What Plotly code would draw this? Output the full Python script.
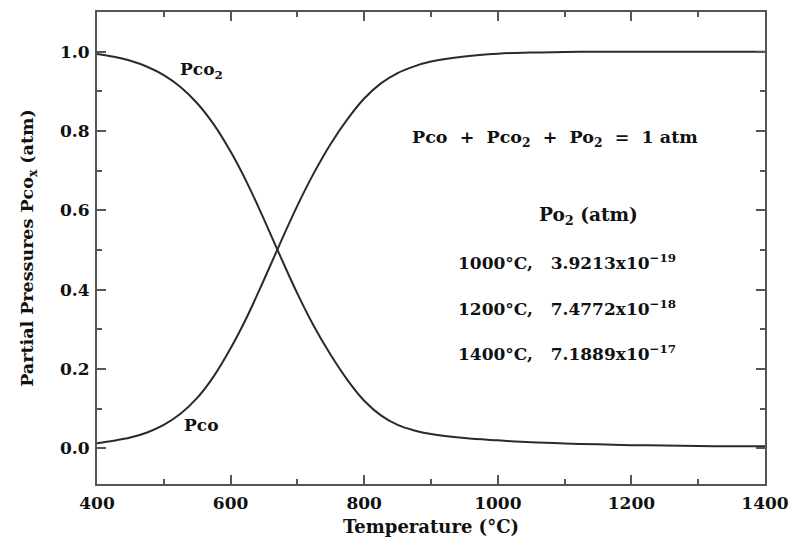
import plotly.graph_objects as go

# Data
temperature = [400, 425, 450, 475, 500, 525, 550, 575, 600, 625, 650, 675, 700, 725, 750, 775,
               800, 825, 850, 875, 900, 950, 1000, 1050, 1100, 1150, 1200, 1250, 1300, 1350, 1400]
p_co = [0.013, 0.019, 0.027, 0.040, 0.059, 0.087, 0.127, 0.182, 0.252, 0.333, 0.425, 0.52, 0.612, 0.695,
        0.768, 0.83, 0.882, 0.92, 0.946, 0.963, 0.975, 0.988, 0.995, 0.998, 0.999, 1.0, 1.0, 1.0, 1.0, 1.0, 1.0]
p_co2 = [0.994, 0.987, 0.977, 0.962, 0.941, 0.911, 0.87, 0.816, 0.748, 0.668, 0.577, 0.482, 0.39, 0.307,
         0.235, 0.172, 0.12, 0.083, 0.059, 0.045, 0.036, 0.026, 0.02, 0.015, 0.012, 0.01, 0.008, 0.007, 0.006, 0.005, 0.005]

x_ticks = [400, 600, 800, 1000, 1200, 1400]
y_ticks = [0.0, 0.2, 0.4, 0.6, 0.8, 1.0]

po2_temps = ["1000°C,", "1200°C,", "1400°C,"]
po2_mantissa = ["3.9213x10", "7.4772x10", "7.1889x10"]
po2_exponent = ["−19", "−18", "−17"]

FONT = "DejaVu Serif"
INK = "#2a2a2a"
TXT = "#111111"
FRAME = "#555555"
SP = "&nbsp;&nbsp;"

fig = go.Figure()
fig.add_trace(go.Scatter(x=temperature, y=p_co2, mode="lines", line=dict(color=INK, width=2, shape="spline", smoothing=1),
                         showlegend=False, hoverinfo="skip"))
fig.add_trace(go.Scatter(x=temperature, y=p_co, mode="lines", line=dict(color=INK, width=2, shape="spline", smoothing=1),
                         showlegend=False, hoverinfo="skip"))

ann_font = dict(family=FONT, size=17, color=TXT)
anns = [
    dict(x=556, y=0.953, text="<b>Pco<sub>2</sub></b>", xanchor="center"),
    dict(x=556, y=0.058, text="<b>Pco</b>", xanchor="center"),
    dict(x=869, y=0.78, text=f"<b>Pco{SP}+{SP}Pco<sub>2</sub>{SP}+{SP}Po<sub>2</sub>{SP}={SP}1 atm</b>", xanchor="left",
         font=dict(family=FONT, size=17.5, color=TXT)),
    dict(x=1059, y=0.585, text=f"<b>Po<sub>2</sub>&nbsp;(atm)</b>", xanchor="left",
         font=dict(family=FONT, size=18.5, color=TXT)),
]
row_y = [0.47, 0.355, 0.24]
for t, m, e, yy in zip(po2_temps, po2_mantissa, po2_exponent, row_y):
    anns.append(dict(x=937, y=yy, xanchor="left",
                     text=f"<b>{t}&nbsp;&nbsp;&nbsp;{m}<sup>{e}</sup></b>"))
for a in anns:
    a.update(xref="x", yref="y", showarrow=False)
    a.setdefault("font", ann_font)

fig.update_layout(
    width=789, height=548,
    margin=dict(l=97, r=24, t=12, b=64, autoexpand=False),
    paper_bgcolor="white", plot_bgcolor="white",
    annotations=anns,
    xaxis=dict(
        range=[400, 1400], tickvals=x_ticks, ticktext=[str(v) for v in x_ticks],
        ticks="inside", ticklen=9, tickwidth=1.5, tickcolor=FRAME,
        minor=dict(dtick=100, tick0=400, ticks="inside", ticklen=5, tickwidth=1.5, tickcolor=FRAME),
        showline=True, linecolor=FRAME, linewidth=2, mirror="ticks",
        showgrid=False, zeroline=False, ticklabelstandoff=3, automargin=False,
        tickfont=dict(family=FONT, size=17, color=TXT, weight="bold"),
        title=dict(text="Temperature (°C)", font=dict(family=FONT, size=18, color=TXT, weight="bold"), standoff=8),
    ),
    yaxis=dict(
        range=[-0.09, 1.10], tickvals=y_ticks, ticktext=[f"{v:.1f}" for v in y_ticks],
        ticks="inside", ticklen=9, tickwidth=1.5, tickcolor=FRAME,
        minor=dict(dtick=0.1, tick0=0, ticks="inside", ticklen=5, tickwidth=1.5, tickcolor=FRAME),
        showline=True, linecolor=FRAME, linewidth=2, mirror="ticks",
        showgrid=False, zeroline=False, ticklabelstandoff=2, automargin=False,
        tickfont=dict(family=FONT, size=17, color=TXT, weight="bold"),
        title=dict(text="Partial Pressures Pco<sub>x</sub> (atm)", font=dict(family=FONT, size=17.5, color=TXT, weight="bold"), standoff=22),
    ),
)

fig.write_html("out.html")
